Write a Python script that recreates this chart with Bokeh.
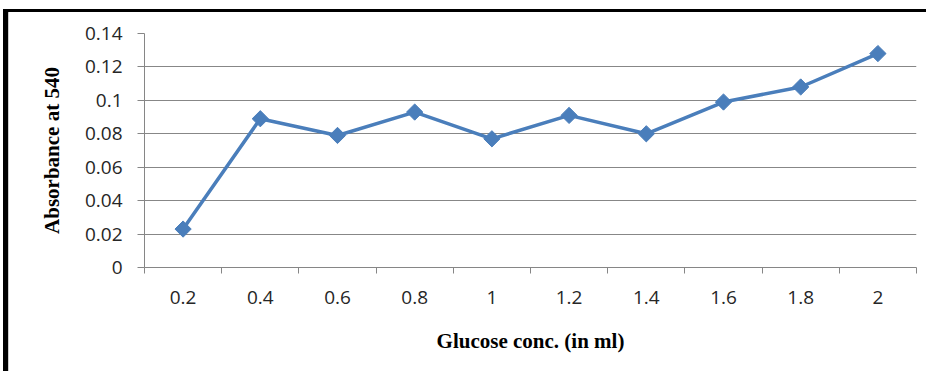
import math
from bokeh.plotting import figure
from bokeh.models import FixedTicker, Range1d
from bokeh.embed import file_html
from bokeh.resources import INLINE

categories = ["0.2", "0.4", "0.6", "0.8", "1", "1.2", "1.4", "1.6", "1.8", "2"]
absorbance = [0.023, 0.089, 0.079, 0.093, 0.077, 0.091, 0.080, 0.099, 0.108, 0.128]
y_ticks = [0, 0.02, 0.04, 0.06, 0.08, 0.1, 0.12, 0.14]
y_tick_labels = ["0", "0.02", "0.04", "0.06", "0.08", "0.1", "0.12", "0.14"]

xpos = [i + 0.5 for i in range(len(categories))]

# canvas starts at x=8, y=12 because of the black frame drawn with CSS borders
p = figure(width=923, height=362, output_backend="svg", toolbar_location=None,
           x_range=Range1d(0, len(categories)), y_range=Range1d(0, 0.14),
           min_border_left=136, min_border_right=15, min_border_top=21, min_border_bottom=107)
p.styles = {"border-top": "3px solid black", "border-left": "5px solid black",
            "margin-left": "3px", "margin-top": "9px",
            "box-shadow": "inset 1px 0 0 #BBBBBB"}
p.outline_line_color = None
p.background_fill_color = "white"
p.border_fill_color = "white"

line_color = "#4A7EBB"
p.line(xpos, absorbance, line_color=line_color, line_width=3.5)
p.scatter(xpos, absorbance, marker="square", angle=math.pi / 4, size=11.5,
          fill_color=line_color, line_color=line_color)

# x axis
p.xaxis.ticker = FixedTicker(ticks=xpos, minor_ticks=list(range(len(categories) + 1)))
p.xaxis.major_label_overrides = {x: c for x, c in zip(xpos, categories)}
p.xaxis.major_tick_out = 0
p.xaxis.major_tick_in = 0
p.xaxis.minor_tick_out = 6
p.xaxis.minor_tick_in = 0
p.xaxis.minor_tick_line_color = "#868686"
p.xaxis.axis_line_color = "#868686"
p.xaxis.major_label_text_font = "Open Sans"
p.xaxis.major_label_text_font_size = "19px"
p.xaxis.major_label_text_color = "#262626"
p.xaxis.major_label_standoff = 17
p.xaxis.axis_label = "Glucose conc. (in ml)"
p.xaxis.axis_label_text_font = "Liberation Serif"
p.xaxis.axis_label_text_font_style = "bold"
p.xaxis.axis_label_text_font_size = "21px"
p.xaxis.axis_label_text_color = "black"
p.xaxis.axis_label_standoff = 22

# y axis
p.yaxis.ticker = FixedTicker(ticks=y_ticks)
p.yaxis.major_label_overrides = {t: l for t, l in zip(y_ticks, y_tick_labels)}
p.yaxis.major_tick_out = 7
p.yaxis.major_tick_in = 0
p.yaxis.major_tick_line_color = "#868686"
p.yaxis.minor_tick_line_color = None
p.yaxis.axis_line_color = "#868686"
p.yaxis.major_label_text_font = "Open Sans"
p.yaxis.major_label_text_font_size = "19px"
p.yaxis.major_label_text_color = "#262626"
p.yaxis.major_label_standoff = 15
p.yaxis.axis_label = "Absorbance at 540"
p.yaxis.axis_label_text_font = "Liberation Serif"
p.yaxis.axis_label_text_font_style = "bold"
p.yaxis.axis_label_text_font_size = "21px"
p.yaxis.axis_label_text_color = "black"
p.yaxis.axis_label_standoff = 18

p.xgrid.grid_line_color = None
p.ygrid.grid_line_color = "#878787"
p.ygrid.grid_line_width = 1

open("out.html", "w").write(file_html(p, INLINE))
